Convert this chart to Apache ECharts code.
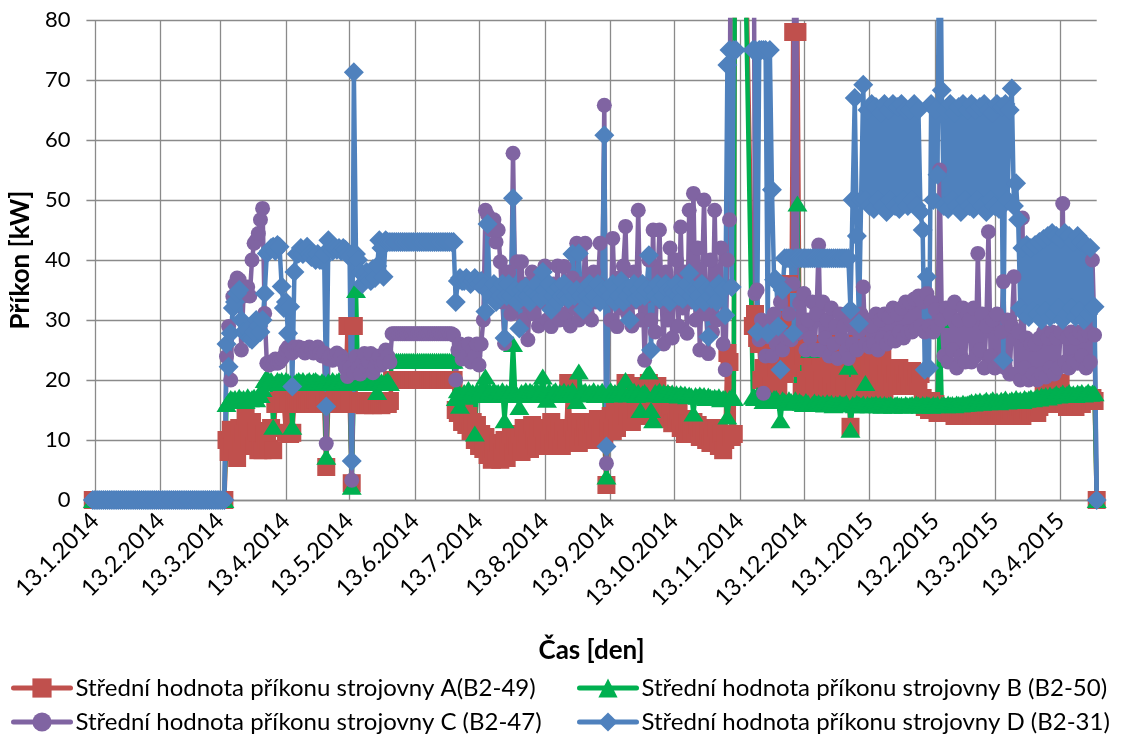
<!DOCTYPE html>
<html>
<head>
<meta charset="utf-8">
<script src="https://cdn.jsdelivr.net/npm/echarts@6/dist/echarts.min.js"></script>
<style>
  html, body { margin: 0; padding: 0; background: #ffffff; }
  #chart { width: 1127px; height: 738px; }
</style>
</head>
<body>
<div id="chart"></div>
<script>
// ---- Time span of the horizontal axis (one category per day) ----
const axisFirstDay = '2014-01-09';
const axisLastDay  = '2015-04-30';

// ---- Series names ----
const nameA = 'Střední hodnota příkonu strojovny A(B2-49)';
const nameB = 'Střední hodnota příkonu strojovny B (B2-50)';
const nameC = 'Střední hodnota příkonu strojovny C (B2-47)';
const nameD = 'Střední hodnota příkonu strojovny D (B2-31)';

// Machines idle: 12.1.2014 – 15.3.2014 (daily means, kW)
const offPeriod = [
  0,0,0,0,0,0,0,0,0,0, 0,0,0,0,0,0,0,0,0,0,
  0,0,0,0,0,0,0,0,0,0, 0,0,0,0,0,0,0,0,0,0, 0,0,0,0,0,0,0,0,
  0,0,0,0,0,0,0,0,0,0, 0,0,0,0,0
];

// ---- Daily mean power [kW]; each run = [first day, consecutive daily values] ----
const runsA = [
  ['2014-01-12', offPeriod],
  ['2014-03-16', [10,8,11.7,9,10,7,12,9.5,11,14,12,10,13,9,11.5,8.3]],
  ['2014-04-01', [9,8.3,11,10,8.5,12,8.3,16,16.5,16,17,16.2,11.2,16.5,11,11.2,16.5,16,16.8,16.2,16.5,16,16.8,16.3,16.5,16,16.7,16.2,16.5,16]],
  ['2014-05-01', [16,5.5,16.5,16,16.3,16.8,16,16.5,16.2,16.7,16,29,16.5,2.8,29,16,16.5,16,16.3,15.8,16.5,16,16.2,15.8,16.5,16,16.3,15.8,16,16.5,16]],
  ['2014-06-01', [16.5,20,20,20,20,20,20,20,20,20,20,20,20,20,20,20,20,20,20,20,20,20,20,20,20,20,20,20,20,20]],
  ['2014-07-01', [20,15,14.5,16,13,15.5,12.5,14,11.5,13,10,12.5,9,11,8.5,10.5,7.5,9,6.7,8.5,7,9.5,6.7,8,10,7,9,11,8,10,9]],
  ['2014-08-01', [11,8,12,9.5,11,8.5,12.5,10,9,11.5,10,12,9,11,10,13,9.5,11,10,12,9,11.5,10,19.5,11,12,10,13,9.5,12,10.5]],
  ['2014-09-01', [12,10.5,13,11,12.5,10,13.5,11,12,10,2.5,12,14,11.5,15,12,17.5,13,16,19.5,14,17,13,18,15,19,14,17.5,15,18]],
  ['2014-10-01', [19.5,14.4,18,16,19,15,17.5,14,16.5,13.5,15.5,12.8,15,13,14.5,12,13.5,11,13,12.8,11.5,13,11,12.5,10.5,12,11,10,11.5,9.5,10.5]],
  ['2014-11-01', [10,12,9,11,8.3,10,24.5,23,10.5,11,180,null,null,null,null,null,null,null,29,31,27,26,20,22,17,27,24,19,25,22]],
  ['2014-12-01', [18,23,30,21,25,36,22,78,78,78,25,18,24,20,26,17.5,23,19,25,18,24,20,26,18.5,23,19,25,18,24,20,26]],
  ['2015-01-01', [19,25,18,12.2,24,19,26,18,23,20,25,18,22,20,24,18.5,22,19,23.5,18,21,19,22,19.5,21,19,22,19,21,19.5,21]],
  ['2015-02-01', [19,21.5,19,20.5,19,21,17,15.5,16,15,16.5,15,16,14.5,15.5,14.5,15.5,14.5,15,14.5,15.5,14,15,14.5,15,14,15.5,14.5]],
  ['2015-03-01', [15,14,15.5,14.5,15,14,15.5,14.5,15,14,15,14.5,15.5,14,15,14.5,15,14,15.5,14.5,15,14,15,14.5,15.5,14,15,14.5,15,14.5,15]],
  ['2015-04-01', [15,14.5,15.5,16,19.5,17,18.5,16,19,17,18.5,16.5,19.5,17,16,15.5,16,15.5,16.5,15.5,16,16.5,16,17,16.5,17,16.5,17,16.5,0]]
];

const runsB = [
  ['2014-01-12', offPeriod],
  ['2014-03-16', [16,16.5,17,16.8,17,16.5,17.2,16.8,17,16.5,17.3,16.8,17,17.2,16.8,17.5]],
  ['2014-04-01', [17.5,18.5,20,20.5,19.8,20,12.2,19.5,20,19.8,20,19.5,20,19.8,19.5,12.2,19.5,19.8,20,19.7,20,19.5,19.8,20,19.6,19.9,20,19.7,19.5,19.8]],
  ['2014-05-01', [19.5,7.2,19.8,19.5,20,19.6,19.8,20,19.5,19.8,19.7,19.5,19.8,2.2,19.5,35,19.5,19.7,19.6,19.8,19.5,20,19.7,19.5,19.8,18,19.6,19.8,19.5,19.7,20]],
  ['2014-06-01', [19.5,23.2,23.2,23.2,23.2,23.2,23.2,23.2,23.2,23.2,23.2,23.2,23.2,23.2,23.2,23.2,23.2,23.2,23.2,23.2,23.2,23.2,23.2,23.2,23.2,23.2,23.2,23.2,23.2,23.2]],
  ['2014-07-01', [23.2,17,18.3,15.7,17.5,18,17.2,18.5,17.8,18,11.1,18.2,17.5,18.4,18,20.6,17.8,18.2,17.5,18.3,17.9,18,17.6,18.3,13.3,18,17.7,18.2,26,18,17.5]],
  ['2014-08-01', [15.5,18,17.8,18.3,17.6,18.2,18,17.5,18.4,17.8,18,20.6,17.8,16.7,18.2,17.5,18,18.3,17.6,18,17.8,18.2,17.5,18,17.7,18.3,17.8,16.5,21.4,17.8,18]],
  ['2014-09-01', [18.2,17.6,18,17.8,18.3,17.5,18,17.8,18.2,17.5,3.9,17.8,18.3,17.6,18,17.7,18.2,17.8,18,20,17.6,18,17.7,18.2,17.5,18,15,17.8,18,17.6]],
  ['2014-10-01', [21.4,15,13.3,18,17.8,18.2,17.5,18,17.7,18,17.6,17.9,17.5,17.8,17.4,17.8,17.5,17.7,17.3,17.6,17.4,14.4,17.5,17.2,17.6,17.3,17.5,17,17.4,17.2,17]],
  ['2014-11-01', [17.2,17,17.3,16.8,17,17,13.9,17,17.2,17,180,null,null,null,null,null,null,null,17.2,17,17.5,17,17.2,16.5,17,16.8,17,16.5,17,17]],
  ['2014-12-01', [16.5,13.3,16.8,16.5,16.2,16.8,16.5,16.3,16.8,49.4,16.5,16.2,16,16.5,16.2,25,16,16.4,16.1,16.3,16,16.2,15.9,16.3,16,16.2,15.8,16.1,15.9,16.2,16]],
  ['2015-01-01', [16,16.2,22.2,11.7,16,15.8,16.2,16,15.8,16.1,19.5,16,15.8,16,15.9,16.1,15.8,16,15.7,16,15.8,15.9,16,15.7,15.9,16,15.8,15.9,15.7,16,15.8]],
  ['2015-02-01', [15.9,16,15.8,16.1,15.9,15.7,16,15.8,16,15.9,15.7,16,15.8,16,30,15.9,16,15.8,16.1,15.9,16,15.8,16.1,16,15.9,16.2,16,16.1]],
  ['2015-03-01', [16.2,16.4,16.1,16.5,16.3,16.6,16.2,16.4,16.7,16.3,16.5,16.8,16.4,16.6,16.3,16.7,16.5,16.9,16.4,16.6,16.8,16.5,17,16.6,16.8,16.5,17,16.7,16.9,17.1,16.8]],
  ['2015-04-01', [17,17.3,16.9,17.4,17.2,17.5,17.1,17.6,17.3,17.5,17.8,17.4,17.6,17.9,17.5,17.7,18,17.6,17.8,17.5,17.9,17.7,18,17.6,17.8,18.1,17.7,17.9,17.8,0]]
];

const runsC = [
  ['2014-01-12', offPeriod],
  ['2014-03-16', [23.9,28.9,20,33.9,36,37,36.7,25,34,35,35.5,34,40,42.8,43.3,44.4]],
  ['2014-04-01', [46.7,48.6,31.1,22.8,22.5,23,22.8,23.5,22.8,23,23.5,24,25,25.5,25,24.5,25.5,25,25.5,25,25.3,24.5,25,25.5,25,24.5,25,25.5,24.5,24]],
  ['2014-05-01', [24.5,9.4,23.5,24,23.3,24,24.5,23.5,24,23,22,20.6,22,3.3,21.2,23.9,22,21,23,24.4,22.2,23,24.4,21.2,22.2,23.5,24,22.5,23,25,24]],
  ['2014-06-01', [23,27.7,27.7,27.7,27.7,27.7,27.7,27.7,27.7,27.7,27.7,27.7,27.7,27.7,27.7,27.7,27.7,27.7,27.7,27.7,27.7,27.7,27.7,27.7,27.7,27.7,27.7,27.7,27.7,27.7]],
  ['2014-07-01', [27.5,20,25,26,23.5,25.5,24,26,23,25,24,26,22.5,26,30,48.3,47.5,46,45,46.7,43,45,39.7,33,26.1,35,38,31,57.8,35,39.7]],
  ['2014-08-01', [33,39.7,30,36,26.7,34,38,31,35,29,37,33,39,30,35,28.9,36,32,39,30,34,38.9,31,35,29,37,32,42.8,30,36,34]],
  ['2014-09-01', [42.8,31,35,30,38,33,36,42.8,34,65.8,6.1,35,30,43.6,33,28.9,37,32,39,45.6,31,35,29,38,33,48.3,30,36,23.3,34]],
  ['2014-10-01', [40,30,45,28,36,45,33,26,38,30,42,27,35,40,29,45.5,32,38,27.8,48.3,33,51.1,30,42,25,36,50,31,24.4,40,28]],
  ['2014-11-01', [48.3,30,35,42,26,21.7,40,46.7,150,null,null,null,null,null,null,null,null,null,150,34.4,35,26.7,30,17.8,24,27.2,29,24,31,26]],
  ['2014-12-01', [28,33,25,36,27,31,26.7,36,150,27.8,32.8,28,34.4,25,30,27,33,25,31,42.5,25,33,27,30,24,32,26,29,23.6,31,27]],
  ['2015-01-01', [29,25,23.6,30,26,31,25,28,31,35.5,26,30,25.5,29,26,31,25,30,27,31,26,30.5,27,32,26.5,31,28,32,27,33,28]],
  ['2015-02-01', [33,28,33.5,28.5,34,29,33,28,34.4,29,33,28,31.7,29,55,30,24,32,23,31,25,33,22,30,24,32,23,31]],
  ['2015-03-01', [30,23,32,24,41.1,25,31,22,29,44.7,24,30,22,31,23,28,36.4,22,30,21,29,37.2,21,28,20,47,22,27,20,26,21]],
  ['2015-04-01', [26,20,27,21,28,20.5,27,22,28,21,27,22,28,49.4,23,27,22,28,23,27,22.8,28,24,27.5,22,28,23,40,27.5,0]]
];

const runsD = [
  ['2014-01-12', offPeriod],
  ['2014-03-16', [26,22.2,27.8,32,33,34.4,35,30,28,27.8,28.3,27,26.7,28,30,29]],
  ['2014-04-01', [28,30,34.4,41.1,41.5,42,42.2,41.5,42.5,42.2,35.6,32,33,27.8,32.2,18.9,38,41,41.1,42,41,41.7,42.2,41,40.5,41,40,41,40,40]],
  ['2014-05-01', [41,15.6,43.3,42,41.5,42,41.7,42,41.5,42,41.7,41,40.5,6.5,71.3,41,40,38,36,37.5,38,37,36.5,38.5,37,39,43.3,42,37.2,43.3,43]],
  ['2014-06-01', [43,43,43,43,43,43,43,43,43,43,43,43,43,43,43,43,43,43,43,43,43,43,43,43,43,43,43,43,43,43]],
  ['2014-07-01', [43,33,36.5,37,36.5,36.5,37,36.5,36,36.5,37,36.5,36,36.5,35.5,31.4,46,35,34,36,33,35,34,36,27,34,36,34,50.3,35,33]],
  ['2014-08-01', [28.6,35,34,35.5,34,33,35,34.5,36,34,33.5,38,35,34,36,31.7,34,35,33,35.5,34,36,34,33.5,35,41,34,35,41.1,34,31.7]],
  ['2014-09-01', [35,34,36,33.5,35,34,36,33,35,60.8,8.9,35,34,36,33,35,34,36.5,33,35,34,30,35,36,33.5,35,34,36,34,35]],
  ['2014-10-01', [40.8,25,35,34,36,33.5,35,34,36,35,33,35,34.5,36,34,35,33.5,35,36,37.8,34,35,33,35,34,36,33,35,27.2,34,35]],
  ['2014-11-01', [35,33,36,35,35,30.8,72.5,75,35.5,75,75,null,null,null,null,null,null,null,75,75,28,75,75,75,75,27.8,75,51.7,36.7,36.7]],
  ['2014-12-01', [28.9,21.7,35,40.3,40.3,40.3,40.3,27.8,40.3,40.3,40.3,40.3,40.3,40.3,40.3,40.3,40.3,40.3,40.3,40.3,40.3,40.3,40.3,40.3,40.3,40.3,40.3,40.3,40.3,40.3,40.3]],
  ['2015-01-01', [40.3,40.3,40.3,31.7,50,67,44,29.4,50,69.2,50,65,49,66,48.5,65.5,50,64.5,49,66,48,65,50,66,49,65.5,48.5,66,50,65,49]],
  ['2015-02-01', [65,50,66,49,65,48,45,21.7,37.2,22,66,50,65,54.2,110,68.3,49,65,48.5,66,50,64.5,49,65.5,48,66,50,65]],
  ['2015-03-01', [49,66,48.5,65,50,65.5,49,66,48,65,50,64.5,49,66,48.5,65.5,23.3,66,50,65,68.6,49,52.8,46.7,32,42,31,42.5,30.5,42,31.5]],
  ['2015-04-01', [42.5,31,43,30,43.5,31.5,44,30.5,44.5,31,44,32,43.5,30,44.5,31,44,32,43,30.5,44,31.5,43,30,42.5,31,42,32,32.2,0]]
];

// ---- Build the daily category axis and place each run on it ----
const DAY_MS = 86400000;
function parseDay(s) {
  const p = s.split('-').map(Number);
  return Date.UTC(p[0], p[1] - 1, p[2]);
}
const t0 = parseDay(axisFirstDay);
const nDays = Math.round((parseDay(axisLastDay) - t0) / DAY_MS) + 1;
const days = [];
for (let i = 0; i < nDays; i++) {
  const dt = new Date(t0 + i * DAY_MS);
  days.push(dt.getUTCDate() + '.' + (dt.getUTCMonth() + 1) + '.' + dt.getUTCFullYear());
}
function fromRuns(runs) {
  const out = new Array(nDays).fill(null);
  runs.forEach(function (run) {
    const s = Math.round((parseDay(run[0]) - t0) / DAY_MS);
    run[1].forEach(function (v, k) { if (s + k < nDays) out[s + k] = v; });
  });
  return out;
}
// labels and vertical grid lines on the 13th of every month
function onThirteenth(idx, value) { return String(value).split('.')[0] === '13'; }

const FONT = 'Lato';
const GRID = '#8a8a8a';

function lineSeries(name, runs, color, symbol, size) {
  return {
    name: name,
    type: 'line',
    data: fromRuns(runs),
    symbol: symbol,
    symbolSize: size,
    showAllSymbol: true,
    connectNulls: true,
    clip: true,
    lineStyle: { width: 4.5, color: color, join: 'round', cap: 'round' },
    itemStyle: { color: color },
    emphasis: { disabled: true },
    animation: false
  };
}

function legendAt(name, left, top) {
  return {
    data: [name],
    left: left, top: top,
    padding: 0,
    itemWidth: 57, itemHeight: 24,
    lineStyle: { width: 5 },
    textStyle: { fontFamily: FONT, fontSize: 24, color: '#000' },
    selectedMode: false
  };
}

const chart = echarts.init(document.getElementById('chart'), null, { renderer: 'canvas' });
chart.setOption({
  backgroundColor: '#ffffff',
  animation: false,
  textStyle: { fontFamily: FONT },
  grid: { left: 83.3, right: 30.3, top: 20, bottom: 238, containLabel: false },
  legend: [
    legendAt(nameA, 11, 676),
    legendAt(nameB, 577, 676),
    legendAt(nameC, 11, 710),
    legendAt(nameD, 577, 710)
  ],
  xAxis: {
    type: 'category',
    data: days,
    boundaryGap: false,
    axisLine: { show: true, lineStyle: { color: GRID, width: 1.3 } },
    axisTick: { show: false },
    axisLabel: {
      interval: onThirteenth,
      rotate: 45,
      margin: 17,
      fontSize: 23.5,
      color: '#000',
      fontFamily: FONT
    },
    splitLine: { show: true, interval: onThirteenth, lineStyle: { color: GRID, width: 1.3 } },
    name: 'Čas [den]',
    nameLocation: 'middle',
    nameGap: 138,
    nameTextStyle: { fontFamily: FONT, fontWeight: 'bold', fontSize: 26, color: '#000' }
  },
  yAxis: {
    type: 'value',
    min: 0, max: 80, interval: 10,
    axisLine: { show: false },
    axisTick: { show: false },
    axisLabel: { fontSize: 22, color: '#000', margin: 16, fontFamily: FONT },
    splitLine: { show: true, lineStyle: { color: GRID, width: 1.3 } },
    name: 'Příkon [kW]',
    nameLocation: 'middle',
    nameGap: 50,
    nameRotate: 90,
    nameTextStyle: { fontFamily: FONT, fontWeight: 'bold', fontSize: 26, color: '#000' }
  },
  series: [
    lineSeries(nameA, runsA, '#C0504D', 'rect', 18),
    lineSeries(nameB, runsB, '#00B050', 'triangle', [20, 16]),
    lineSeries(nameC, runsC, '#8064A2', 'circle', 15),
    lineSeries(nameD, runsD, '#4F81BD', 'diamond', 20)
  ]
});
</script>
</body>
</html>
